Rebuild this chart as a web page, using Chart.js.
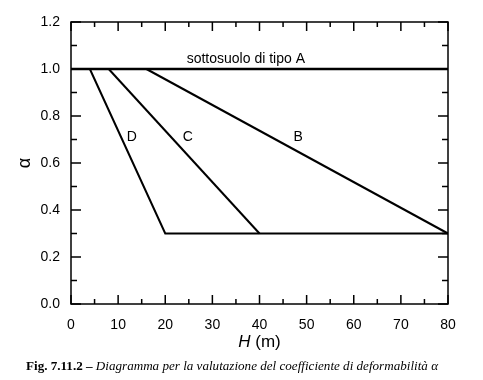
<!DOCTYPE html>
<html>
<head>
<meta charset="utf-8">
<script src="https://cdn.jsdelivr.net/npm/chart.js@4"></script>
<style>
  body { margin: 0; background: #fff; }
  #wrap { position: relative; width: 483px; height: 380px; }
  #caption {
    position: absolute; left: 26px; top: 358px;
    font-family: "Liberation Serif", serif; font-size: 13.1px; white-space: nowrap; color: #000;
  }
</style>
</head>
<body>
<div id="wrap">
  <canvas id="c" width="483" height="380"></canvas>
  <div id="caption"><b>Fig. 7.11.2 –</b> <i>Diagramma per la valutazione del coefficiente di deformabilità α</i></div>
</div>
<script>
// H (m) values and alpha for each soil type
const typeA_H = [0, 80];
const typeA_alpha = [1.0, 1.0];
const typeB_H = [16, 80];
const typeB_alpha = [1.0, 0.3];
const typeC_H = [8, 40];
const typeC_alpha = [1.0, 0.3];
const typeD_H = [4, 20, 80];
const typeD_alpha = [1.0, 0.3, 0.3];

const xTicks = [0, 10, 20, 30, 40, 50, 60, 70, 80];
const yTicks = [0.0, 0.2, 0.4, 0.6, 0.8, 1.0, 1.2];

// curve labels (text + position in data units)
const labelText = ["sottosuolo di tipo A", "B", "C", "D"];
const labelH = [37.1, 48.2, 24.8, 12.9];
const labelAlpha = [1.04, 0.712, 0.712, 0.712];

function toPoints(xs, ys) {
  return xs.map((x, i) => ({ x: x, y: ys[i] }));
}

const FONT = "'Liberation Sans', Arial, sans-serif";

const frameTicks = {
  id: "frameTicks",
  beforeDatasetsDraw(chart) {
    const { ctx, chartArea: a, scales: { x, y } } = chart;
    ctx.save();
    ctx.strokeStyle = "#000";
    ctx.lineWidth = 1.5;
    ctx.strokeRect(a.left, a.top, a.right - a.left, a.bottom - a.top);
    ctx.beginPath();
    for (let v = 0; v <= 80; v += 5) {
      const px = x.getPixelForValue(v);
      const len = v % 10 === 0 ? 9 : 5;
      ctx.moveTo(px, a.bottom); ctx.lineTo(px, a.bottom - len);
      ctx.moveTo(px, a.top); ctx.lineTo(px, a.top + len);
    }
    for (let i = 0; i <= 12; i++) {
      const py = y.getPixelForValue(i / 10);
      const len = i % 2 === 0 ? 10 : 6;
      ctx.moveTo(a.left, py); ctx.lineTo(a.left + len, py);
      ctx.moveTo(a.right, py); ctx.lineTo(a.right - len, py);
    }
    ctx.stroke();
    ctx.restore();
  },
  afterDraw(chart) {
    const { ctx, chartArea: a, scales: { x, y } } = chart;
    ctx.save();
    ctx.fillStyle = "#000";
    ctx.font = "14px " + FONT;
    ctx.textAlign = "center";
    ctx.textBaseline = "middle";
    labelText.forEach((t, i) => {
      ctx.fillText(t, x.getPixelForValue(labelH[i]), y.getPixelForValue(labelAlpha[i]));
    });
    // x axis title: italic H + " (m)"
    const cx = (a.left + a.right) / 2;
    const ty = 342;
    ctx.font = "italic 17px " + FONT;
    const wH = ctx.measureText("H").width;
    ctx.font = "17px " + FONT;
    const wR = ctx.measureText(" (m)").width;
    const start = cx - (wH + wR) / 2;
    ctx.textAlign = "left";
    ctx.font = "italic 17px " + FONT;
    ctx.fillText("H", start, ty);
    ctx.font = "17px " + FONT;
    ctx.fillText(" (m)", start + wH, ty);
    ctx.restore();
  }
};

const lineStyle = { borderColor: "#000", borderWidth: 2, pointRadius: 0, showLine: true, fill: false };

new Chart(document.getElementById("c"), {
  type: "scatter",
  data: {
    datasets: [
      { label: "A", data: toPoints(typeA_H, typeA_alpha), ...lineStyle, borderWidth: 2.5 },
      { label: "B", data: toPoints(typeB_H, typeB_alpha), ...lineStyle },
      { label: "C", data: toPoints(typeC_H, typeC_alpha), ...lineStyle },
      { label: "D", data: toPoints(typeD_H, typeD_alpha), ...lineStyle }
    ]
  },
  options: {
    responsive: false,
    animation: false,
    layout: { padding: { left: 0, top: 22, right: 35, bottom: 20 } },
    plugins: { legend: { display: false }, tooltip: { enabled: false } },
    scales: {
      x: {
        type: "linear",
        min: 0, max: 80,
        afterBuildTicks: (s) => { s.ticks = xTicks.map((v) => ({ value: v })); },
        afterFit: (s) => { s.height = 56; },
        grid: { display: false, drawTicks: false },
        border: { display: false },
        ticks: { color: "#000", padding: 13, font: { family: FONT, size: 14 } },
        title: { display: false }
      },
      y: {
        type: "linear",
        min: 0, max: 1.2,
        afterBuildTicks: (s) => { s.ticks = yTicks.map((v) => ({ value: v })); },
        afterFit: (s) => { s.width = 71; },
        grid: { display: false, drawTicks: false },
        border: { display: false },
        ticks: {
          color: "#000", padding: 11, font: { family: FONT, size: 14 },
          callback: (v) => Number(v).toFixed(1)
        },
        title: {
          display: true, text: "α", color: "#000",
          font: { family: FONT, size: 18 }, padding: { top: 14, bottom: 0 }
        }
      }
    }
  },
  plugins: [frameTicks]
});
</script>
</body>
</html>
